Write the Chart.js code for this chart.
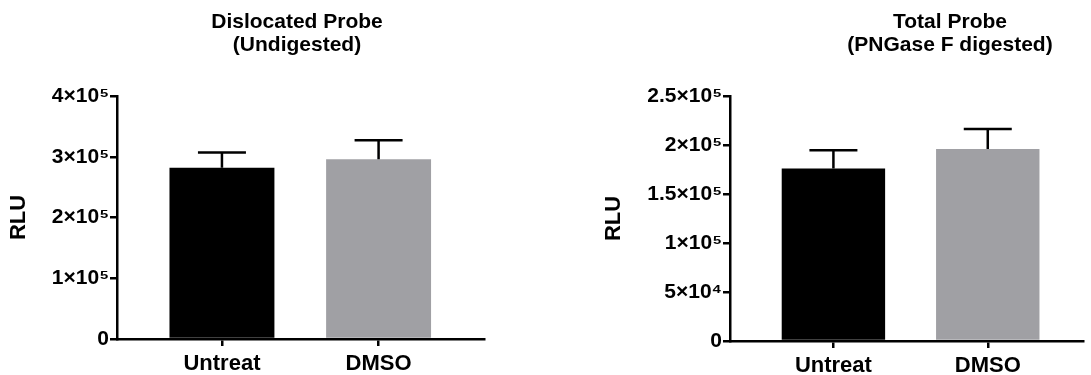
<!DOCTYPE html>
<html>
<head>
<meta charset="utf-8">
<script src="https://cdn.jsdelivr.net/npm/chart.js@4.4.0/dist/chart.umd.min.js"></script>
<style>
  html, body { margin: 0; padding: 0; background: #fff; }
  .panel { position: absolute; top: 0; height: 375px; }
  #left { left: 0; width: 545px; }
  #right { left: 545px; width: 546px; }
</style>
</head>
<body>
<div class="panel" id="left"><canvas id="chartLeft"></canvas></div>
<div class="panel" id="right"><canvas id="chartRight"></canvas></div>
<script>
// data
const categories = ['Untreat', 'DMSO'];

const dislocatedTitle = ['Dislocated Probe', '(Undigested)'];
const dislocatedMeans = [282000, 296000];
const dislocatedErrors = [25000, 31000];
const dislocatedTickValues = [0, 100000, 200000, 300000, 400000];
const dislocatedTickLabels = ['0', '1×10⁵', '2×10⁵', '3×10⁵', '4×10⁵'];

const totalTitle = ['Total Probe', '(PNGase F digested)'];
const totalMeans = [176000, 196000];
const totalErrors = [18600, 20300];
const totalTickValues = [0, 50000, 100000, 150000, 200000, 250000];
const totalTickLabels = ['0', '5×10⁴', '1×10⁵', '1.5×10⁵', '2×10⁵', '2.5×10⁵'];

const barColors = ['#000000', '#a0a0a4'];
const FONT = '"Liberation Sans", Arial, sans-serif';

// upper-only error bars with a cap
const errorBarsPlugin = {
  id: 'errorBars',
  afterDatasetsDraw(chart, args, opts) {
    const { ctx, scales: { x, y } } = chart;
    const means = chart.data.datasets[0].data;
    ctx.save();
    ctx.strokeStyle = '#000';
    ctx.lineWidth = opts.lineWidth;
    means.forEach((pt, i) => {
      const px = x.getPixelForValue(pt.x);
      const yBase = y.getPixelForValue(pt.y);
      const yTop = y.getPixelForValue(pt.y + opts.errors[i]);
      ctx.beginPath();
      ctx.moveTo(px, yBase);
      ctx.lineTo(px, yTop);
      ctx.moveTo(px - opts.cap, yTop);
      ctx.lineTo(px + opts.cap, yTop);
      ctx.stroke();
    });
    ctx.restore();
  }
};

// two-line panel title, centred at a given x
const panelTitlePlugin = {
  id: 'panelTitle',
  afterDraw(chart, args, opts) {
    const ctx = chart.ctx;
    ctx.save();
    ctx.fillStyle = '#000';
    ctx.font = 'bold 21px ' + FONT;
    ctx.textAlign = 'center';
    ctx.textBaseline = 'alphabetic';
    opts.lines.forEach((line, i) => ctx.fillText(line, opts.x, opts.baselines[i]));
    ctx.restore();
  }
};

function makeChart(id, p) {
  return new Chart(document.getElementById(id), {
    type: 'bar',
    data: {
      datasets: [{
        data: p.means.map((v, i) => ({ x: i, y: v })),
        backgroundColor: barColors,
        borderWidth: 0,
        categoryPercentage: 1,
        barPercentage: 0.67
      }]
    },
    options: {
      responsive: true,
      maintainAspectRatio: false,
      animation: false,
      layout: { padding: { top: 96, right: p.padRight, bottom: 0, left: 0 } },
      plugins: {
        legend: { display: false },
        tooltip: { enabled: false },
        errorBars: { errors: p.errors, cap: 24, lineWidth: 2.5 },
        panelTitle: { lines: p.title, x: p.titleX, baselines: [28, 51] }
      },
      scales: {
        x: {
          type: 'linear',
          z: 1,
          offset: false,
          min: -0.67,
          max: p.xMax,
          afterFit: s => { s.height = p.xHeight; },
          afterBuildTicks: s => { s.ticks = categories.map((c, i) => ({ value: i })); },
          grid: { offset: false, drawOnChartArea: false, tickLength: 7, color: '#000', lineWidth: 2.5 },
          border: { color: '#000', width: 2.5 },
          ticks: {
            callback: v => categories[v],
            color: '#000',
            font: { family: FONT, size: 22, weight: 'bold' },
            padding: 5,
            autoSkip: false,
            maxRotation: 0
          }
        },
        y: {
          z: 1,
          min: 0,
          max: p.tickValues[p.tickValues.length - 1],
          afterFit: s => { s.width = p.yWidth; },
          afterBuildTicks: s => { s.ticks = p.tickValues.map(v => ({ value: v })); },
          grid: { drawOnChartArea: false, tickLength: 7, color: '#000', lineWidth: 2.5 },
          border: { color: '#000', width: 2.5 },
          ticks: {
            callback: (v, i) => p.tickLabels[i],
            color: '#000',
            font: { family: FONT, size: 21, weight: 'bold' },
            padding: 1
          },
          title: {
            display: true,
            text: 'RLU',
            color: '#000',
            font: { family: FONT, size: 22, weight: 'bold' },
            padding: { top: p.rluPad, bottom: 0 }
          }
        }
      }
    },
    plugins: [errorBarsPlugin, panelTitlePlugin]
  });
}

makeChart('chartLeft', {
  title: dislocatedTitle, titleX: 297,
  means: dislocatedMeans, errors: dislocatedErrors,
  tickValues: dislocatedTickValues, tickLabels: dislocatedTickLabels,
  yWidth: 117, padRight: 61, xMax: 1.673, xHeight: 36, rluPad: 6
});

makeChart('chartRight', {
  title: totalTitle, titleX: 405,
  means: totalMeans, errors: totalErrors,
  tickValues: totalTickValues, tickLabels: totalTickLabels,
  yWidth: 185, padRight: 8, xMax: 1.617, xHeight: 34, rluPad: 56
});
</script>
</body>
</html>
